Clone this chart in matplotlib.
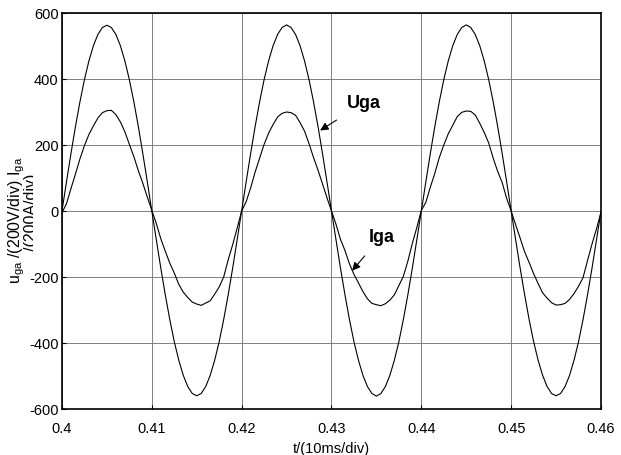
import matplotlib
matplotlib.use("Agg")
import matplotlib.pyplot as plt
import numpy as np
from matplotlib.patches import Rectangle

plt.rcParams['font.family'] = ['Liberation Sans', 'DejaVu Sans']
plt.rcParams['axes.unicode_minus'] = False
plt.rcParams['mathtext.fontset'] = 'custom'
plt.rcParams['mathtext.rm'] = 'Liberation Sans'
plt.rcParams['mathtext.it'] = 'Liberation Sans'

# time axis: 0.4 .. 0.46 s, one sample every 0.5 ms
t = np.linspace(0.4, 0.46, 121)

# grid voltage Uga (V)
u_cycle1 = [0, 88, 174, 256, 331, 398, 455, 501, 535, 556, 563, 556, 535, 501, 455, 398, 331, 256, 174, 88,
            0, -87, -173, -254, -329, -396, -452, -498, -532, -553, -560, -553, -532, -498, -452, -396, -329, -254, -173, -87]
u_cycle2 = [0, 88, 174, 256, 331, 398, 455, 501, 535, 556, 564, 556, 535, 501, 455, 398, 331, 256, 174, 88,
            0, -87, -173, -254, -329, -396, -452, -498, -532, -553, -561, -553, -532, -498, -452, -396, -329, -254, -173, -87]
u_cycle3 = [0, 88, 174, 256, 331, 398, 455, 501, 535, 556, 564, 556, 535, 501, 455, 398, 331, 256, 174, 88,
            0, -87, -173, -254, -329, -396, -452, -498, -532, -553, -560, -553, -532, -498, -452, -396, -329, -254, -173, -87, 0]
uga = u_cycle1 + u_cycle2 + u_cycle3

# grid current Iga (A)
i_cycle1 = [-5, 22, 68, 112, 158, 198, 232, 258, 282, 298, 304, 305, 292, 270, 240, 202, 165, 122, 84, 42,
            2, -38, -84, -122, -158, -188, -222, -246, -262, -276, -282, -286, -279, -272, -252, -230, -200, -148, -102, -52]
i_cycle2 = [0, 28, 70, 118, 160, 202, 236, 262, 285, 296, 300, 298, 290, 268, 242, 204, 162, 124, 82, 40,
            0, -40, -86, -120, -160, -192, -218, -244, -266, -280, -284, -287, -281, -270, -254, -226, -198, -152, -98, -50]
i_cycle3 = [2, 26, 72, 114, 162, 200, 234, 260, 286, 299, 303, 302, 291, 266, 238, 206, 160, 120, 86, 38,
            0, -42, -82, -124, -156, -190, -220, -248, -264, -278, -285, -284, -280, -268, -250, -228, -202, -150, -100, -54, -4]
iga = i_cycle1 + i_cycle2 + i_cycle3

fig = plt.figure(figsize=(6.21, 4.56), dpi=100)
ax = fig.add_axes([0.0998, 0.1009, 0.868, 0.8684])

ax.plot(t, uga, color='black', lw=0.8)
ax.plot(t, iga, color='black', lw=0.8)

ax.set_xlim(0.4, 0.46)
ax.set_ylim(-600, 600)
ax.set_xticks([0.4, 0.41, 0.42, 0.43, 0.44, 0.45, 0.46])
ax.set_xticklabels(['0.4', '0.41', '0.42', '0.43', '0.44', '0.45', '0.46'])
ax.set_yticks([-600, -400, -200, 0, 200, 400, 600])
ax.grid(True, color='#808080', lw=0.7)
ax.tick_params(direction='in', length=3, labelsize=10.5, color='black')
ax.tick_params(axis='x', pad=9)
ax.tick_params(axis='y', pad=2.5)
for s in ax.spines.values():
    s.set_linewidth(1.2)

ax.set_xlabel('t/(10ms/div)', fontsize=10.5, labelpad=4)

# two-line y label, the second line half hidden as in the original
fig.text(6 / 621, 1 - 220 / 456, 'u$_{ga}$ /(200V/div) I$_{ga}$', rotation=90, fontsize=11.5,
         ha='left', va='center')
t2 = fig.text(24 / 621, 1 - 212 / 456, '/(200A/div)', rotation=90, fontsize=11.5,
              ha='left', va='center')
clip = Rectangle((0, 0), 33 / 621, 1, transform=fig.transFigure, visible=False)
fig.add_artist(clip)
t2.set_clip_path(clip)

ax.annotate('Uga', xy=(0.42873, 244), xytext=(0.4317, 314), fontsize=13, fontweight='bold',
            va='baseline', ha='left',
            arrowprops=dict(arrowstyle='-|>', color='black', lw=0.8, mutation_scale=12,
                            shrinkA=8, shrinkB=0))
ax.annotate('Iga', xy=(0.4323, -181), xytext=(0.4341, -90), fontsize=13, fontweight='bold',
            va='baseline', ha='left',
            arrowprops=dict(arrowstyle='-|>', color='black', lw=0.8, mutation_scale=12,
                            shrinkA=8, shrinkB=0))

fig.savefig('out.png', dpi=100)
